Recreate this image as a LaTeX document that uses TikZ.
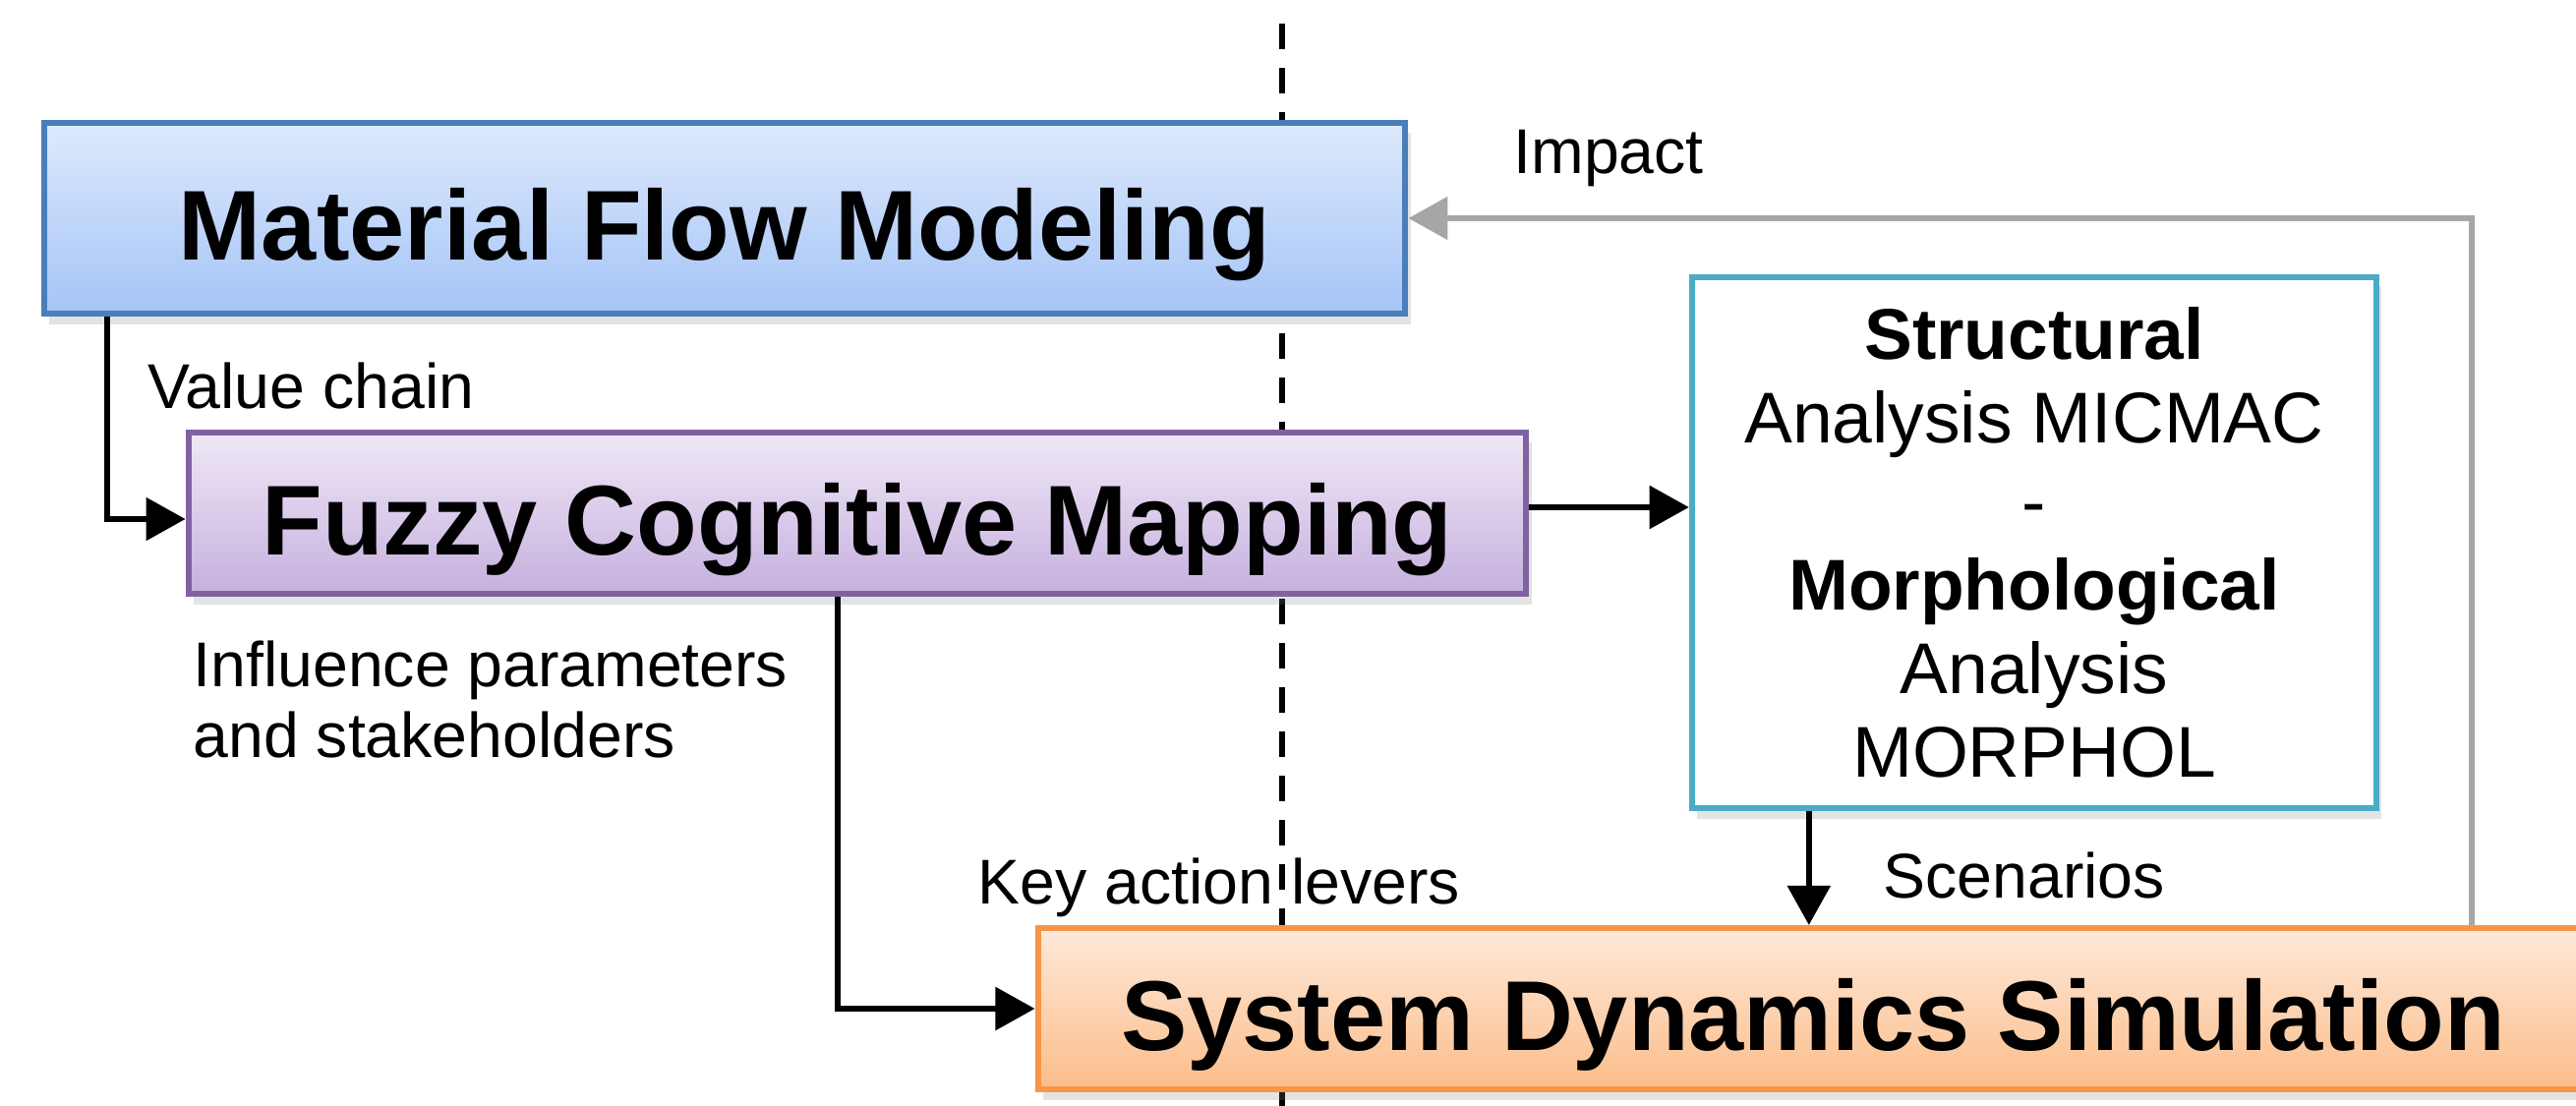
\documentclass[tikz,border=0pt]{standalone}
\usepackage{fontspec}
\setmainfont{Liberation Sans}
\usetikzlibrary{arrows.meta,shadows,calc}
\definecolor{mfmline}{HTML}{4A7EBB}
\definecolor{mfmtop}{HTML}{DEE9FC}
\definecolor{mfmbot}{HTML}{A4C4F7}
\definecolor{fcmline}{HTML}{7F63A1}
\definecolor{fcmtop}{HTML}{F0E8F7}
\definecolor{fcmbot}{HTML}{C5B0DE}
\definecolor{sdsline}{HTML}{F79646}
\definecolor{sdstop}{HTML}{FEE9DA}
\definecolor{sdsbot}{HTML}{FBBD8A}
\definecolor{strline}{HTML}{4BACC6}
\definecolor{impgray}{HTML}{A6A6A6}
\begin{document}
\begin{tikzpicture}[x=0.01cm,y=-0.01cm,
  box/.style={draw, line width=1.7pt, inner sep=0pt,
    font=\fontsize{28.7}{34}\selectfont\bfseries,
    drop shadow={shadow xshift=1.5pt, shadow yshift=-3pt, opacity=0.22}},
  bigtext/.style={text height=30pt, text depth=6pt},
  conn/.style={line width=1.7pt, draw=black, -{Triangle[length=11.4pt,width=12.2pt]}},
  gconn/.style={line width=1.7pt, draw=impgray, -{Triangle[length=11.4pt,width=12.2pt]}},
  divider/.style={line width=1.9pt, dash pattern=on 7.4pt off 5.4pt},
  lbl/.style={font=\fontsize{18.3}{20.4}\selectfont, inner sep=0pt}
]
\useasboundingbox (0,0) rectangle (2620,1125);
\clip (0,0) rectangle (2620,1125);

% divider
\coordinate (dtop) at (1304,24);
\coordinate (dbot) at (1304,1125);
\draw[divider] (dtop) -- (dbot);

% boxes
\node[box, bigtext, draw=mfmline, top color=mfmtop, bottom color=mfmbot,
  minimum width=13.84cm, minimum height=1.94cm] (mfm) at (737,222) {Material Flow Modeling};
\node[box, bigtext, draw=fcmline, top color=fcmtop, bottom color=fcmbot,
  minimum width=13.60cm, minimum height=1.64cm] (fcm) at (872,522) {Fuzzy Cognitive Mapping};
\node[box, draw=strline, fill=white, align=center,
  font=\fontsize{20.8}{24.2}\selectfont,
  minimum width=6.96cm, minimum height=5.40cm] (str) at (2069,552)
  {\textbf{Structural}\\Analysis MICMAC\\-\\\textbf{Morphological}\\Analysis\\MORPHOL};
\node[box, bigtext, draw=sdsline, top color=sdstop, bottom color=sdsbot,
  minimum width=15.76cm, minimum height=1.64cm] (sds) at (1844,1026) {System Dynamics Simulation};

% connectors
\coordinate (vcstart) at ($(mfm.south west)+(67,0)$);
\draw[conn] (vcstart) |- ($(fcm.west)+(0,6)$);
\coordinate (fsstart) at ($(fcm.east)+(0,-6)$);
\draw[conn] (fsstart) -- (fsstart -| str.west);
\coordinate (kstart) at ($(fcm.south west)+(663,0)$);
\draw[conn] (kstart) |- (sds.west);
\coordinate (sstart) at ($(str.south west)+(122,0)$);
\draw[conn] (sstart) -- (sstart |- sds.north);
\coordinate (istart) at ($(sds.north west)+(1461,0)$);
\draw[gconn] (istart) |- (mfm.east);

% labels
\node[lbl, anchor=base west] (impact) at (1539,177) {Impact};
\node[lbl, anchor=base west] (vchain) at (150,416) {Value chain};
\node[lbl, anchor=north west, align=left] (infl) at (196,651) {Influence parameters\\and stakeholders};
\node[lbl, anchor=base] (kal) at (1240,920) {Key action levers};
\node[lbl, anchor=base west] (scen) at (1915,914) {Scenarios};
\end{tikzpicture}
\end{document}
